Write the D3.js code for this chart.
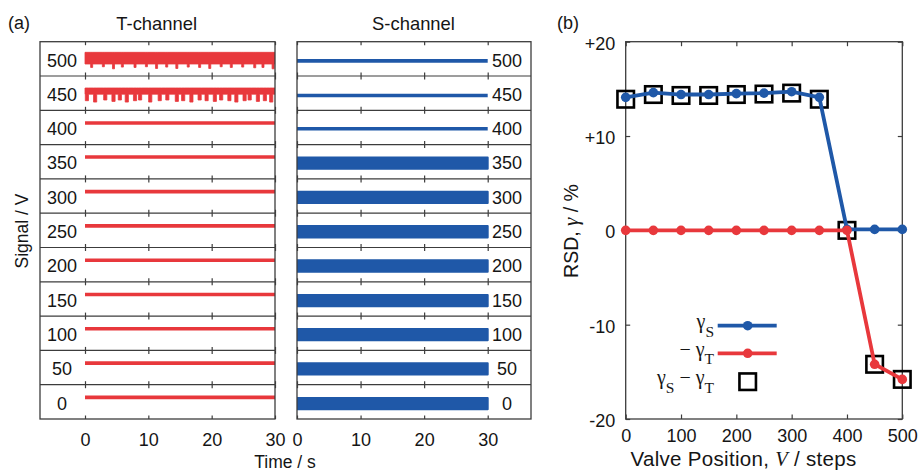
<!DOCTYPE html>
<html><head><meta charset="utf-8">
<script src="https://cdn.jsdelivr.net/npm/d3@7"></script>
<style>
body{margin:0;background:#fff;}
</style></head><body>
<svg id="c" width="919" height="472" font-family="'Liberation Sans',Arial,Helvetica,sans-serif" fill="#151515"></svg>
<script>
// ---------- data ----------
const rowLabels = [500,450,400,350,300,250,200,150,100,50,0];
const timeTicks = [0,10,20,30];
// T-channel: normalised trace level within each row (0 = row bottom, 1 = row top)
const tLevel = [0.68,0.64,0.63,0.64,0.63,0.63,0.63,0.63,0.63,0.63,0.63];
// T-channel noisy rows (500, 450): band top / bottom and dips (time, depth)
const tNoisyRows = [500,450];
const tBandTop = [0.69,0.65];
const tBandBottom = [0.35,0.47];
const tDipTimes500 = [1.05,2.9,4.5,5.9,7.9,9.7,11.3,12.9,14.5,16.3,18.1,19.7,21.5,23.1,24.9,26.8,28.1,29.7];
const tDipDepth500 = [0.25,0.27,0.21,0.26,0.25,0.27,0.22,0.26,0.22,0.26,0.25,0.22,0.27,0.25,0.26,0.24,0.25,0.21];
const tDipTimes450 = [0.3,1.6,3.2,4.5,5.5,6.6,7.9,8.7,10.3,11.8,13.0,14.5,15.5,16.8,18.1,19.2,20.5,21.5,22.8,23.9,25.2,26.0,27.3,28.4,29.4];
const tDipDepth450 = [0.28,0.24,0.30,0.26,0.30,0.24,0.28,0.30,0.24,0.28,0.30,0.26,0.28,0.24,0.30,0.28,0.26,0.30,0.28,0.24,0.28,0.30,0.26,0.28,0.24];
// S-channel: level and noise half-width (normalised)
const sLevel = [0.44,0.43,0.46,0.46,0.46,0.46,0.46,0.45,0.46,0.46,0.45];
const sNoise = [0,0,0,0.165,0.165,0.165,0.165,0.165,0.165,0.165,0.165];

// panel (b)
const valvePos = [0,50,100,150,200,250,300,350,400,450,500];
const gammaS = [14.1,14.6,14.4,14.4,14.5,14.55,14.7,14.1,0.1,0.1,0.1];
const negGammaT = [0,0,0,0,0,0,0,0,0,-14.2,-15.8];
const gammaDiff = [13.9,14.4,14.3,14.3,14.4,14.45,14.55,13.9,0,-14.2,-15.8];
const rsdTicks = [-20,-10,0,10,20];
const valveTicks = [0,100,200,300,400,500];

// ---------- styles ----------
const RED = "#e8383c", BLUE = "#1f58a8", FRAME = "#3c3c3c", INK = "#151515";
const FS = 18;
const SERIF = "'Liberation Serif','Times New Roman',serif";
const svg = d3.select("#c");

function cleanAxis(a){
  a.attr("font-family", null).attr("font-size", null).attr("fill", null);
  a.select(".domain").remove();
  a.selectAll("line").attr("stroke",FRAME).attr("stroke-width",1.2);
  a.selectAll("text").attr("font-size",FS).attr("fill",INK);
  return a;
}

// ---------- panel (a) ----------
const Y0 = 41.7, Y1 = 419;
const rowBand = d3.scaleBand().domain(rowLabels).range([Y0, Y1]);
const bw = rowBand.bandwidth();
const rowY = l => d3.scaleLinear().domain([0,1]).range([rowBand(l)+bw, rowBand(l)]);

const xT = d3.scaleLinear().domain([0,30]).range([85,275]);
const xS = d3.scaleLinear().domain([0,30]).range([297,487.7]);
const panels = [
  {key:"T", x0:40, x1:275, x:xT, labelX:62, title:"T-channel", titleX:156.7},
  {key:"S", x0:297, x1:531, x:xS, labelX:507, title:"S-channel", titleX:413.5}
];

const defs = svg.append("defs");
panels.forEach(p => {
  defs.append("clipPath").attr("id","clip"+p.key).append("rect")
    .attr("x",p.x0).attr("y",Y0).attr("width",p.x1-p.x0).attr("height",Y1-Y0);
});

function dipPoints(times, depths, baseBottom, w){
  const pts = [[0, baseBottom]];
  times.forEach((t,i) => {
    pts.push([t-w/2, baseBottom],[t-w/2, depths[i]],[t+w/2, depths[i]],[t+w/2, baseBottom]);
  });
  pts.push([30, baseBottom]);
  return pts;
}

panels.forEach(p => {
  const g = svg.append("g");
  const traces = g.append("g").attr("clip-path","url(#clip"+p.key+")");
  rowLabels.forEach((l,i) => {
    const y = rowY(l);
    if (p.key === "T") {
      const ni = tNoisyRows.indexOf(l);
      if (ni >= 0) {
        const pts = l === 500 ? dipPoints(tDipTimes500, tDipDepth500, tBandBottom[ni], 0.32)
                              : dipPoints(tDipTimes450, tDipDepth450, tBandBottom[ni], 0.5);
        const topV = tBandTop[ni];
        traces.append("path").datum(pts)
          .attr("d", d3.area().x(d=>p.x(Math.max(0,Math.min(30,d[0])))).y0(d=>y(d[1])).y1(()=>y(topV)))
          .attr("fill",RED).attr("stroke",RED).attr("stroke-width",0.8);
      } else {
        traces.append("path").datum([0,30])
          .attr("d", d3.line().x(d=>p.x(d)).y(()=>y(tLevel[i])))
          .attr("stroke",RED).attr("stroke-width",3.6).attr("fill","none");
      }
    } else {
      if (sNoise[i] === 0) {
        traces.append("path").datum([0,30])
          .attr("d", d3.line().x(d=>p.x(d)).y(()=>y(sLevel[i])))
          .attr("stroke",BLUE).attr("stroke-width",3.6).attr("fill","none");
      } else {
        traces.append("path").datum([0,30])
          .attr("d", d3.area().x(d=>p.x(d)).y0(()=>y(sLevel[i]-sNoise[i])).y1(()=>y(sLevel[i]+sNoise[i])))
          .attr("fill",BLUE).attr("stroke",BLUE).attr("stroke-width",2).attr("stroke-linejoin","round");
      }
    }
    g.append("text").attr("x",p.labelX).attr("y",rowBand(l)+24.8)
      .attr("text-anchor","middle").attr("font-size",FS).text(l);
  });
  // separators
  rowLabels.slice(1).forEach(l => {
    const yy = rowBand(l);
    g.append("line").attr("x1",p.x0).attr("x2",p.x1).attr("y1",yy).attr("y2",yy)
      .attr("stroke",FRAME).attr("stroke-width",1.2);
    [d3.axisTop, d3.axisBottom].forEach(ax => {
      cleanAxis(g.append("g").attr("transform",`translate(0,${yy})`)
        .call(ax(p.x).tickValues(timeTicks).tickSize(3.5).tickFormat("")));
    });
  });
  // top / bottom inward ticks
  cleanAxis(g.append("g").attr("transform",`translate(0,${Y0})`)
    .call(d3.axisBottom(p.x).tickValues(timeTicks).tickSize(3.5).tickFormat("")));
  cleanAxis(g.append("g").attr("transform",`translate(0,${Y1})`)
    .call(d3.axisTop(p.x).tickValues(timeTicks).tickSize(3.5).tickFormat("")));
  // tick labels
  cleanAxis(g.append("g").attr("transform",`translate(0,${Y1})`)
    .call(d3.axisBottom(p.x).tickValues(timeTicks).tickSize(0).tickPadding(14)));
  // frame
  g.append("rect").attr("x",p.x0).attr("y",Y0).attr("width",p.x1-p.x0).attr("height",Y1-Y0)
    .attr("fill","none").attr("stroke",FRAME).attr("stroke-width",1.3);
  // title
  g.append("text").attr("x",p.titleX).attr("y",29.5).attr("text-anchor","middle")
    .attr("font-size",18.4).text(p.title);
});
svg.append("text").attr("x",8).attr("y",28.5).attr("font-size",FS).text("(a)");
svg.append("text").attr("x",285).attr("y",467.5).attr("text-anchor","middle").attr("font-size",17.5).text("Time / s");
svg.append("text").attr("transform","translate(27.5,231) rotate(-90)").attr("text-anchor","middle")
  .attr("font-size",17.5).text("Signal / V");

// ---------- panel (b) ----------
const xR = d3.scaleLinear().domain([0,500]).range([625.7,902.3]);
const yR = d3.scaleLinear().domain([-20,20]).range([Y1,Y0]);
const gb = svg.append("g");
const fmt = d => d > 0 ? "+"+d : (d === 0 ? "0" : "-"+Math.abs(d));
const axL = cleanAxis(gb.append("g").attr("transform",`translate(${xR(0)},0)`)
  .call(d3.axisLeft(yR).tickValues(rsdTicks).tickSize(-4.5).tickPadding(10.5).tickFormat(fmt)));
axL.selectAll("text").attr("dy","0.42em");
cleanAxis(gb.append("g").attr("transform",`translate(${xR(500)},0)`)
  .call(d3.axisRight(yR).tickValues(rsdTicks).tickSize(-4.5).tickFormat("")));
cleanAxis(gb.append("g").attr("transform",`translate(0,${Y1})`)
  .call(d3.axisBottom(xR).tickValues(valveTicks).tickSize(-4.5).tickPadding(10).tickFormat(d3.format("d"))));
cleanAxis(gb.append("g").attr("transform",`translate(0,${Y0})`)
  .call(d3.axisTop(xR).tickValues(valveTicks).tickSize(-4.5).tickFormat("")));
gb.append("rect").attr("x",xR(0)).attr("y",Y0).attr("width",xR(500)-xR(0)).attr("height",Y1-Y0)
  .attr("fill","none").attr("stroke",FRAME).attr("stroke-width",1.3);

const SQ = 16.5;
gb.selectAll("rect.sq").data(valvePos).enter().append("rect").attr("class","sq")
  .attr("x",(d)=>xR(d)-SQ/2).attr("y",(d,i)=>yR(gammaDiff[i])-SQ/2)
  .attr("width",SQ).attr("height",SQ).attr("fill","none").attr("stroke","#000").attr("stroke-width",2.6);

const line = d3.line().x(d=>xR(d[0])).y(d=>yR(d[1]));
[[gammaS,BLUE],[negGammaT,RED]].forEach(([vals,col]) => {
  const pts = valvePos.map((v,i)=>[v,vals[i]]);
  gb.append("path").datum(pts).attr("d",line).attr("fill","none").attr("stroke",col).attr("stroke-width",3.8);
  gb.selectAll(null).data(pts).enter().append("circle")
    .attr("cx",d=>xR(d[0])).attr("cy",d=>yR(d[1])).attr("r",4.8).attr("fill",col);
});

svg.append("text").attr("x",557).attr("y",28.5).attr("font-size",FS).text("(b)");
// y label
const yl = svg.append("text").attr("transform","translate(577.5,231) rotate(-90)").attr("text-anchor","middle").attr("font-size",19.5);
yl.append("tspan").text("RSD, ");
yl.append("tspan").attr("font-family",SERIF).attr("font-style","italic").attr("font-size",21).text("γ");
yl.append("tspan").text(" / %");
// x label
const xl = svg.append("text").attr("x",743.5).attr("y",465.5).attr("text-anchor","middle")
  .attr("font-size",20.5).attr("letter-spacing",0.3);
xl.append("tspan").text("Valve Position, ");
xl.append("tspan").attr("font-family",SERIF).attr("font-style","italic").text("V");
xl.append("tspan").text(" / steps");

// legend
const legX = 714, legL0 = 717.7, legL1 = 776.7, legM = 747.7;
const legRows = [
  {y:325.7, parts:[["γ",""],["S","sub"]], kind:"line", col:BLUE},
  {y:353.3, parts:[["− γ",""],["T","sub"]], kind:"line", col:RED},
  {y:381.7, parts:[["γ",""],["S","sub"],[" − γ",""],["T","sub"]], kind:"sq"}
];
legRows.forEach(r => {
  const t = svg.append("text").attr("x",legX).attr("y",r.y+2.5).attr("text-anchor","end")
    .attr("font-family",SERIF).attr("font-size",20);
  let shifted = false;
  r.parts.forEach(([s,k]) => {
    const ts = t.append("tspan").text(s);
    if (k === "sub") { ts.attr("font-size",15.5).attr("dy", 8.5); shifted = true; }
    else if (shifted) { ts.attr("dy",-8.5); shifted = false; }
  });
  if (r.kind === "line") {
    svg.append("line").attr("x1",legL0).attr("x2",legL1).attr("y1",r.y).attr("y2",r.y)
      .attr("stroke",r.col).attr("stroke-width",3.8);
    svg.append("circle").attr("cx",legM).attr("cy",r.y).attr("r",4.8).attr("fill",r.col);
  } else {
    svg.append("rect").attr("x",legM-SQ/2).attr("y",r.y-SQ/2).attr("width",SQ).attr("height",SQ)
      .attr("fill","none").attr("stroke","#000").attr("stroke-width",2.6);
  }
});
</script>
</body></html>
